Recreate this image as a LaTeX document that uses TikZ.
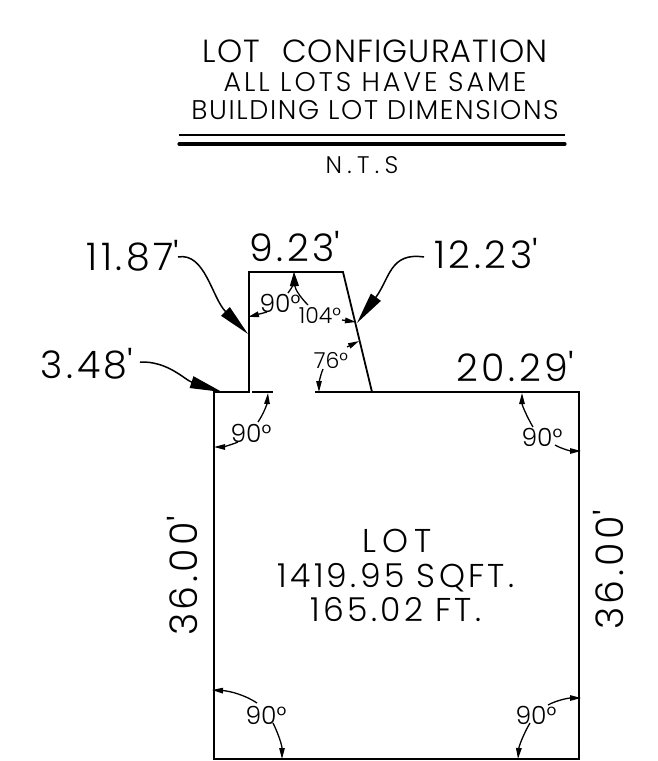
\documentclass[tikz,border=0pt]{standalone}
\usepackage{fontspec}
\setmainfont{Poppins Light}
\usetikzlibrary{arrows.meta}
\newcommand{\spaced}[2]{\fontsize{#1}{#1}\selectfont\addfontfeature{LetterSpace=#2}}
\tikzset{
	outline/.style = {line width=1.8pt, line join=miter},
	bigleader/.style = {line width=1.5pt, -{Triangle[length=32pt,width=12pt]}},
	anglearrow/.style = {line width=1.3pt, -{Triangle[length=11pt,width=5.5pt]}},
	toparrow/.style = {line width=1.3pt, -{Triangle[length=14pt,width=8pt]}},
	dimtext/.style = {inner sep=0pt, anchor=base, font=\spaced{38}{9.5}},
	bodytext/.style = {inner sep=0pt, anchor=base, font=\spaced{33}{10}},
	headtext/.style = {inner sep=0pt, anchor=base},
	angletext/.style = {inner sep=0pt, anchor=base, font=\spaced{25}{0}},
	smallangle/.style = {inner sep=0pt, anchor=base, font=\spaced{22}{0}},
}
\begin{document}
\begin{tikzpicture}[x=1pt,y=-1pt]
		\useasboundingbox (0,0) rectangle (658,761);
		% title block
		\node[headtext, font=\spaced{32}{3.5}] (title) at (375,62) {LOT\hspace{22pt}CONFIGURATION};
		\node[headtext, font=\spaced{27}{11}] (sameline) at (375,91) {ALL LOTS HAVE SAME};
		\node[headtext, font=\spaced{27}{6}] (dimline) at (375,119) {BUILDING LOT DIMENSIONS};
		\node[headtext, font=\spaced{24}{22}] (nts) at (362,173) {N.T.S};
		\coordinate (thinl) at (179,135);
		\coordinate (thinr) at (565,135);
		\coordinate (thickl) at (179,144);
		\coordinate (thickr) at (565,144);
		\draw[line width=1.2pt] (thinl) -- (thinr);
		\draw[line width=3.2pt, line cap=round] (thickl) -- (thickr);
		% lot outline
		\coordinate (lotnw) at (214,392);
		\coordinate (tabsw) at (249,392);
		\coordinate (tabnw) at (249,272);
		\coordinate (tabne) at (343,272);
		\coordinate (tabse) at (372,392);
		\coordinate (lotne) at (579,392);
		\coordinate (lotse) at (579,759);
		\coordinate (lotsw) at (214,759);
		\draw[outline] (lotnw) -- (tabsw) -- (tabnw) -- (tabne) -- (tabse) -- (lotne) -- (lotse) -- (lotsw) -- cycle;
		\coordinate (stubal) at (252,392);
		\coordinate (stubar) at (273,392);
		\coordinate (stubbl) at (315,392);
		\draw[outline] (stubal) -- (stubar);
		\draw[outline] (stubbl) -- (tabse);
		% lengths
		\node[dimtext] (lenleft) at (133,270) {11.87\textquotesingle};
		\node[dimtext] (lentop) at (295,261) {9.23\textquotesingle};
		\node[dimtext] (lenright) at (486,268) {12.23\textquotesingle};
		\node[dimtext] (lenstep) at (87,378) {3.48\textquotesingle};
		\node[dimtext] (lenrun) at (515,381) {20.29\textquotesingle};
		\node[dimtext, rotate=90, anchor=center] (lenwest) at (182,576) {36.00\textquotesingle};
		\node[dimtext, rotate=90, anchor=center] (leneast) at (608,570) {36.00\textquotesingle};
		% lot data
		\node[bodytext, font=\spaced{33}{18}] (lotname) at (397,552) {LOT};
		\node[bodytext] (lotarea) at (396,587) {1419.95 SQFT.};
		\node[bodytext] (lotperim) at (396,621) {165.02 FT.};
		% angles
		\node[angletext] (angnw) at (251,442) {90°};
		\node[angletext] (angne) at (542,446) {90°};
		\node[angletext] (angsw) at (266,724) {90°};
		\node[angletext] (angse) at (536,724) {90°};
		\node[angletext] (angtab) at (280,312) {90°};
		\node[smallangle] (angobt) at (320,323) {104°};
		\node[smallangle] (angacu) at (331,368) {76°};
		% leaders
		\coordinate (leftstart) at (178,257);
		\coordinate (lefttip) at (248,334);
		\draw[bigleader] (leftstart) .. controls (205,252) and (212,298) .. (lefttip);
		\coordinate (stepstart) at (140,362);
		\coordinate (steptip) at (222,392);
		\draw[bigleader] (stepstart) .. controls (168,361) and (185,380) .. (steptip);
		\coordinate (rightstart) at (424,257);
		\coordinate (righttip) at (357,323);
		\draw[bigleader] (rightstart) .. controls (390,252) and (390,278) .. (righttip);
		% angle arrows
		\coordinate (a1) at (258,422);
		\coordinate (a2) at (268,393);
		\draw[anglearrow] (a1) .. controls (264,413) and (267,404) .. (a2);
		\coordinate (a3) at (238,442);
		\coordinate (a4) at (214,447);
		\draw[anglearrow] (a3) .. controls (231,445) and (222,447) .. (a4);
		\coordinate (b1) at (533,427);
		\coordinate (b2) at (522,393);
		\draw[anglearrow] (b1) .. controls (527,417) and (522,405) .. (b2);
		\coordinate (b3) at (555,445);
		\coordinate (b4) at (581,451);
		\draw[anglearrow] (b3) .. controls (562,449) and (571,451) .. (b4);
		\coordinate (c1) at (257,703);
		\coordinate (c2) at (212,690);
		\draw[anglearrow] (c1) .. controls (245,695) and (230,691) .. (c2);
		\coordinate (c3) at (273,723);
		\coordinate (c4) at (282,759);
		\draw[anglearrow] (c3) .. controls (278,733) and (282,745) .. (c4);
		\coordinate (d1) at (548,705);
		\coordinate (d2) at (581,698);
		\draw[anglearrow] (d1) .. controls (557,700) and (569,698) .. (d2);
		\coordinate (d3) at (530,723);
		\coordinate (d4) at (518,759);
		\draw[anglearrow] (d3) .. controls (524,733) and (519,746) .. (d4);
		\coordinate (e1) at (288,293);
		\coordinate (e2) at (294,272);
		\draw[toparrow] (e1) .. controls (292,288) and (294,282) .. (e2);
		\coordinate (e3) at (308,305);
		\draw[toparrow] (e3) .. controls (300,297) and (295,289) .. (e2);
		\coordinate (e4) at (267,312);
		\coordinate (e5) at (248,317);
		\draw[anglearrow] (e4) -- (e5);
		\coordinate (f1) at (342,320);
		\coordinate (f2) at (356,322);
		\draw[anglearrow] (f1) -- (f2);
		\coordinate (g1) at (347,347);
		\coordinate (g2) at (359,341);
		\draw[anglearrow] (g1) -- (g2);
		\coordinate (g3) at (323,369);
		\coordinate (g4) at (319,392);
		\draw[anglearrow] (g3) .. controls (320,376) and (319,384) .. (g4);
	\end{tikzpicture}
\end{document}
